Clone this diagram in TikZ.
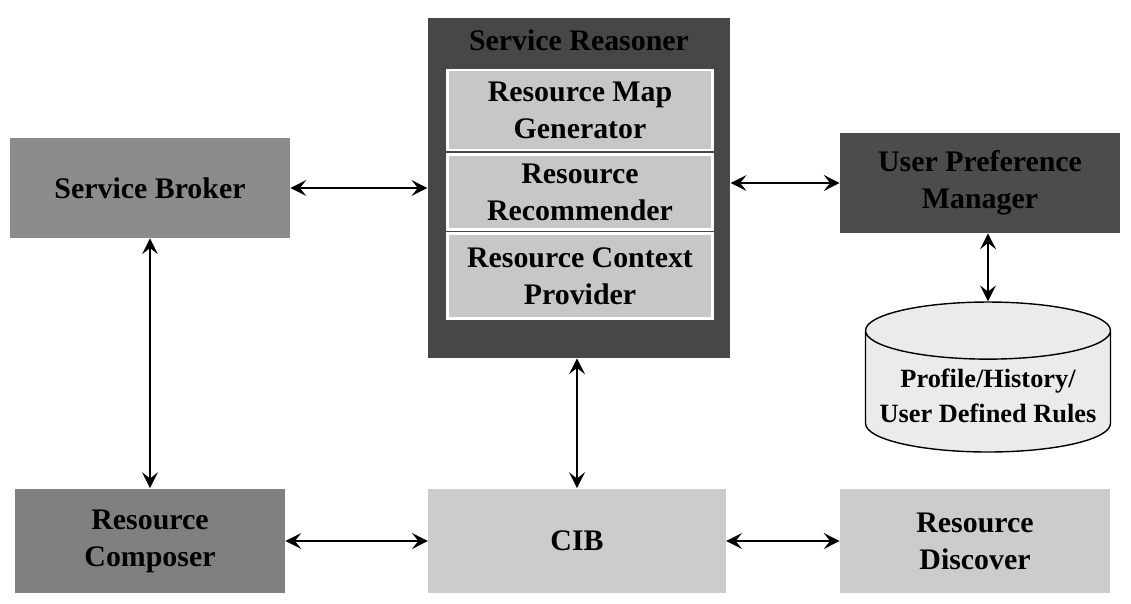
\documentclass[tikz,border=0pt]{standalone}
\usepackage{fontspec}
\setmainfont{Liberation Serif}
\usetikzlibrary{shapes,shapes.geometric,arrows,arrows.meta,calc,positioning}

\begin{document}
\begin{tikzpicture}[x=0.02cm,y=-0.02cm,
	  every node/.style={align=center,font=\bfseries\fontsize{17}{21}\selectfont,text=black,draw=none},
	  block/.style={rectangle,minimum width=5.6cm,minimum height=2cm},
	  inner/.style={rectangle,fill=black!22,draw=white,line width=1.2pt,minimum width=5.3cm,minimum height=1.6cm},
	  store/.style={cylinder,shape border rotate=90,draw=black,thick,fill=black!8,aspect=0.25,minimum width=4.9cm,minimum height=3cm},
	  to/.style={{Stealth[length=9pt,width=9pt,inset=3.5pt]}-{Stealth[length=9pt,width=9pt,inset=3.5pt]},line width=1.2pt,draw=black}]

	  \useasboundingbox (0,0) rectangle (1131,604);

	  % Left column
	  \node[block,fill=black!45] (broker) at (150,188) {Service Broker};
	  \node[block,fill=black!50,minimum width=5.4cm,minimum height=2.1cm] (composer) at (150,541) {Resource\\Composer};

	  % Service reasoner and its parts
	  \node[rectangle,fill=black!72,minimum width=6.05cm,minimum height=6.8cm] (reasoner) at (579,188) {};
	  \node (reasonertitle) at (579,40) {Service Reasoner};
	  \node[inner] (mapgen) at (580,110) {Resource Map\\Generator};
	  \node[inner,minimum height=1.5cm] (recommender) at (580,192) {Resource\\Recommender};
	  \node[inner,minimum height=1.7cm] (context) at (580,276) {Resource Context\\Provider};

	  % Right column
	  \node[block,fill=black!70] (upm) at (980,183) {User Preference\\Manager};
	  \node[store,font=\bfseries\fontsize{15}{20}\selectfont] (profile) at (988,396) {Profile/History/\\User Defined Rules};
	  \node[block,fill=black!20,minimum width=5.4cm,minimum height=2.1cm] (discover) at (975,541) {Resource\\Discover};

	  % Bottom centre
	  \node[block,fill=black!20,minimum width=5.95cm,minimum height=2.1cm] (cib) at (577,541) {CIB};

	  \draw[to] (broker) -- (broker -| reasoner.west);
	  \draw[to] (reasoner.east |- upm) -- (upm);
	  \draw[to] (upm.south -| profile) -- (profile.top);
	  \draw[to] (broker) -- (broker |- composer.north);
	  \draw[to] (reasoner.south -| cib) -- (cib);
	  \draw[to] (composer) -- (cib);
	  \draw[to] (cib) -- (discover);
\end{tikzpicture}
\end{document}
